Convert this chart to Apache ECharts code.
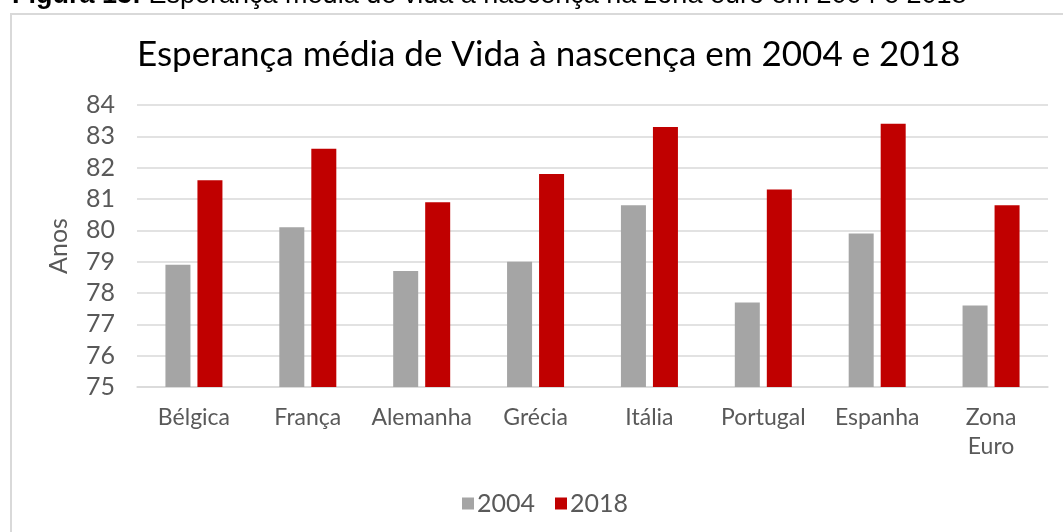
<!DOCTYPE html>
<html>
<head>
<meta charset="utf-8">
<script src="https://cdn.jsdelivr.net/npm/echarts@6/dist/echarts.min.js"></script>
<style>
  html, body { margin: 0; padding: 0; background: #fff; }
  #chart { width: 1063px; height: 532px; }
</style>
</head>
<body>
<div id="chart"></div>
<script>
var countries = ['Bélgica', 'França', 'Alemanha', 'Grécia', 'Itália', 'Portugal', 'Espanha', 'Zona\nEuro'];
var years = ['2004', '2018'];
var values2004 = [78.9, 80.1, 78.7, 79.0, 80.8, 77.7, 79.9, 77.6];
var values2018 = [81.6, 82.6, 80.9, 81.8, 83.3, 81.3, 83.4, 80.8];
var yTicks = { min: 75, max: 84, interval: 1 };

var titleFont = 'Lato, "Open Sans", sans-serif';
var font = 'Lato, "Open Sans", sans-serif';
var labelGray = '#595959';

var myChart = echarts.init(document.getElementById('chart'));
var option = {
	backgroundColor: '#fff',
	animation: false,
	graphic: [
		// moldura do gráfico
		{
			type: 'rect',
			shape: { x: 11, y: 14, width: 1100, height: 600 },
			style: { fill: 'none', stroke: '#d9d9d9', lineWidth: 2 }
		},
		// legenda da figura, cortada no topo
		{
			type: 'text',
			left: 12,
			top: -18,
			style: {
				text: '{b|Figura 13:} Esperança média de vida à nascença na zona euro em 2004 e 2018',
				font: '27px "Liberation Sans", Arial, sans-serif',
				fill: '#000',
				rich: {
					b: { fontWeight: 'bold', fontSize: 27, fontFamily: '"Liberation Sans", Arial, sans-serif' }
				}
			}
		}
	],
	title: {
		text: 'Esperança média de Vida à nascença em 2004 e 2018',
		left: 132,
		top: 32,
		textStyle: { fontFamily: titleFont, fontSize: 35, fontWeight: 'normal', color: '#000' }
	},
	legend: {
		data: years,
		left: 457,
		top: 486,
		itemWidth: 12,
		itemHeight: 12,
		itemGap: 20,
		icon: 'rect',
		textStyle: { fontFamily: font, fontSize: 25, color: labelGray, padding: [0, 0, 0, -2] }
	},
	grid: { left: 137, right: 15, top: 105, bottom: 145, containLabel: false },
	xAxis: {
		type: 'category',
		data: countries,
		axisTick: { show: false },
		axisLine: { lineStyle: { color: '#d9d9d9', width: 1.5 } },
		axisLabel: { interval: 0, fontFamily: font, fontSize: 23, color: labelGray, margin: 16, lineHeight: 29 }
	},
	yAxis: {
		type: 'value',
		min: yTicks.min,
		max: yTicks.max,
		interval: yTicks.interval,
		name: 'Anos',
		nameLocation: 'middle',
		nameGap: 66,
		nameTextStyle: { fontFamily: font, fontSize: 25, color: labelGray },
		axisLabel: { fontFamily: font, fontSize: 25, color: labelGray, margin: 22 },
		splitLine: { lineStyle: { color: '#d9d9d9', width: 1.5 } }
	},
	series: [
		{
			name: years[0],
			type: 'bar',
			data: values2004,
			barWidth: 25,
			barGap: '28%',
			itemStyle: { color: '#a5a5a5' }
		},
		{
			name: years[1],
			type: 'bar',
			data: values2018,
			barWidth: 25,
			itemStyle: { color: '#c00000' }
		}
	]
};
myChart.setOption(option);
</script>
</body>
</html>
